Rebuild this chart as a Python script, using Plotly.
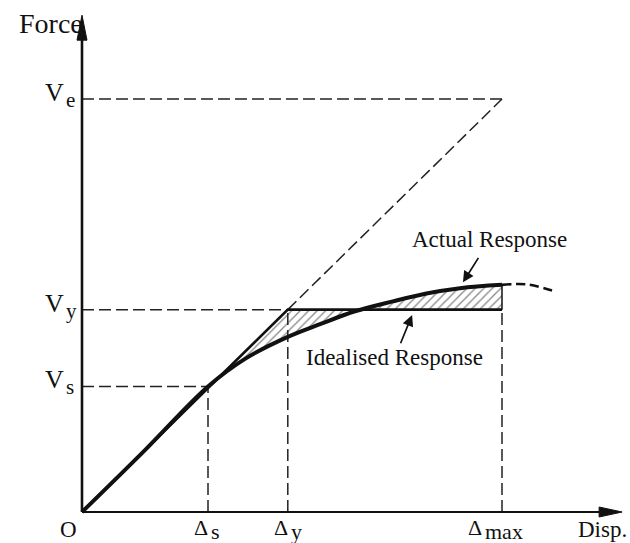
import plotly.graph_objects as go

# ---------------- data ----------------
disp_ticks = [3.0, 4.9, 10.0]           # Δs, Δy, Δmax
disp_subs = ["s", "y", "max"]
force_ticks = [3.04, 4.9, 10.0]         # Vs, Vy, Ve
force_subs = ["s", "y", "e"]

actual_x = [0.0, 1.5, 3.0, 3.9, 4.9, 5.7, 6.5, 7.4, 8.2, 9.0, 10.0]
actual_y = [0.0, 1.5, 3.04, 3.72, 4.24, 4.56, 4.86, 5.10, 5.29, 5.42, 5.50]
ext_x = [10.0, 10.6, 11.3]
ext_y = [5.50, 5.51, 5.33]

idealised_x = [0.0, 4.9, 10.0]
idealised_y = [0.0, 4.9, 4.9]

axis_end_x = 12.86
axis_end_y = 12.03

DS, DY, DMAX = disp_ticks
VS, VY, VE = force_ticks

FONT = "Liberation Serif"
INK = "#111111"

fig = go.Figure()

# hatched area between actual and idealised responses
fig.add_trace(go.Scatter(x=idealised_x, y=idealised_y, mode="lines",
                         line=dict(width=0, color=INK), hoverinfo="skip"))
fig.add_trace(go.Scatter(x=actual_x, y=actual_y, mode="lines",
                         line=dict(width=0, color=INK, shape="spline"),
                         fill="tonexty", fillcolor="white",
                         fillpattern=dict(shape="/", fgcolor="#111111", bgcolor="white",
                                          size=6, solidity=0.22),
                         hoverinfo="skip"))

# dashed guide lines
gx, gy = [], []
for d, v in [(DS, VS), (DY, VY)]:
    gx += [0, d, None, d, d, None]
    gy += [v, v, None, 0, v, None]
gx += [DMAX, DMAX, None, 0, DMAX, None, DY, DMAX]
gy += [0, VY, None, VE, VE, None, VY, VE]
fig.add_trace(go.Scatter(x=gx, y=gy, mode="lines",
                         line=dict(width=1.5, color="#222222", dash="12px,5px"),
                         hoverinfo="skip"))

# closing edge of the hatch at Δmax
fig.add_trace(go.Scatter(x=[DMAX, DMAX], y=[VY, actual_y[-1]], mode="lines",
                         line=dict(width=1.5, color=INK), hoverinfo="skip"))

# idealised response
fig.add_trace(go.Scatter(x=idealised_x, y=idealised_y, mode="lines",
                         line=dict(width=2.6, color=INK), hoverinfo="skip"))
# actual response
fig.add_trace(go.Scatter(x=actual_x, y=actual_y, mode="lines",
                         line=dict(width=4, color=INK, shape="spline"), hoverinfo="skip"))
fig.add_trace(go.Scatter(x=ext_x, y=ext_y, mode="lines",
                         line=dict(width=2.6, color=INK, shape="spline", dash="9px,5px"),
                         hoverinfo="skip"))

# axes with arrow heads
shapes = [
    dict(type="line", x0=0, y0=0, x1=0, y1=axis_end_y - 0.3, line=dict(color=INK, width=2.6)),
    dict(type="line", x0=0, y0=0, x1=axis_end_x - 0.3, y1=0, line=dict(color=INK, width=2.2)),
    dict(type="path", xsizemode="pixel", ysizemode="pixel", xanchor=0, yanchor=axis_end_y,
         path="M0,0 L-5,-25 L5,-25 Z", fillcolor=INK, line=dict(color=INK, width=1)),
    dict(type="path", xsizemode="pixel", ysizemode="pixel", xanchor=axis_end_x, yanchor=0,
         path="M0,0 L-23,5 L-23,-5 Z", fillcolor=INK, line=dict(color=INK, width=1)),
]

ann = []
def txt(text, x, y, size, xanchor="center", yanchor="middle", xshift=0, yshift=0,
        xref="x", yref="y"):
    ann.append(dict(text=text, x=x, y=y, xref=xref, yref=yref, showarrow=False,
                    xanchor=xanchor, yanchor=yanchor, xshift=xshift, yshift=yshift,
                    borderpad=0,
                    font=dict(family=FONT, size=size, color=INK)))

# axis titles
txt("Force", 0, 1, 28, xanchor="right", xshift=2, yref="paper", yshift=-23)
txt("Disp.", 1, 0, 23, xanchor="right", xref="paper", yref="paper", xshift=-2, yshift=14)
txt("O", 0, 0, 23, xshift=-14, yshift=-17)

# Δ labels: the Δ and its (nearly full size) subscript
delta_offsets = [1, 1, -19]
for d, sub, off in zip(disp_ticks, disp_subs, delta_offsets):
    txt("Δ", d, 0, 22, xanchor="right", xshift=off, yshift=-15)
    txt(sub, d, 0, 22, xanchor="left", xshift=off + 1, yshift=-19.5)

# V labels
for v, sub in zip(force_ticks, force_subs):
    txt("V", 0, v, 26, xanchor="right", xshift=-17, yshift=6.5)
    txt(sub, 0, v, 21, xanchor="left", xshift=-17, yshift=-1)

# curve labels with their pointer arrows
for label, (hx, hy), (tx, ty), gap in [
    ("Actual Response", (9.07, 5.56), (9.71, 6.59), 6),
    ("Idealised Response", (7.86, 4.77), (7.45, 3.75), 1),
]:
    ann.append(dict(text=label, x=hx, y=hy, ax=tx, ay=ty, xref="x", yref="y",
                    axref="x", ayref="y", showarrow=True, arrowhead=2, arrowsize=1.3,
                    arrowwidth=1.7, arrowcolor=INK, standoff=0, startstandoff=gap,
                    borderpad=0, font=dict(family=FONT, size=23, color=INK)))

fig.update_layout(
    width=630, height=543,
    margin=dict(l=0, r=0, t=0, b=0),
    paper_bgcolor="white", plot_bgcolor="white",
    showlegend=False,
    xaxis=dict(range=[-82 / 42, 548 / 42], visible=False, fixedrange=True),
    yaxis=dict(range=[-31 / 41.3, 512 / 41.3], visible=False, fixedrange=True),
    shapes=shapes,
    annotations=ann,
)

fig.write_html("out.html")
